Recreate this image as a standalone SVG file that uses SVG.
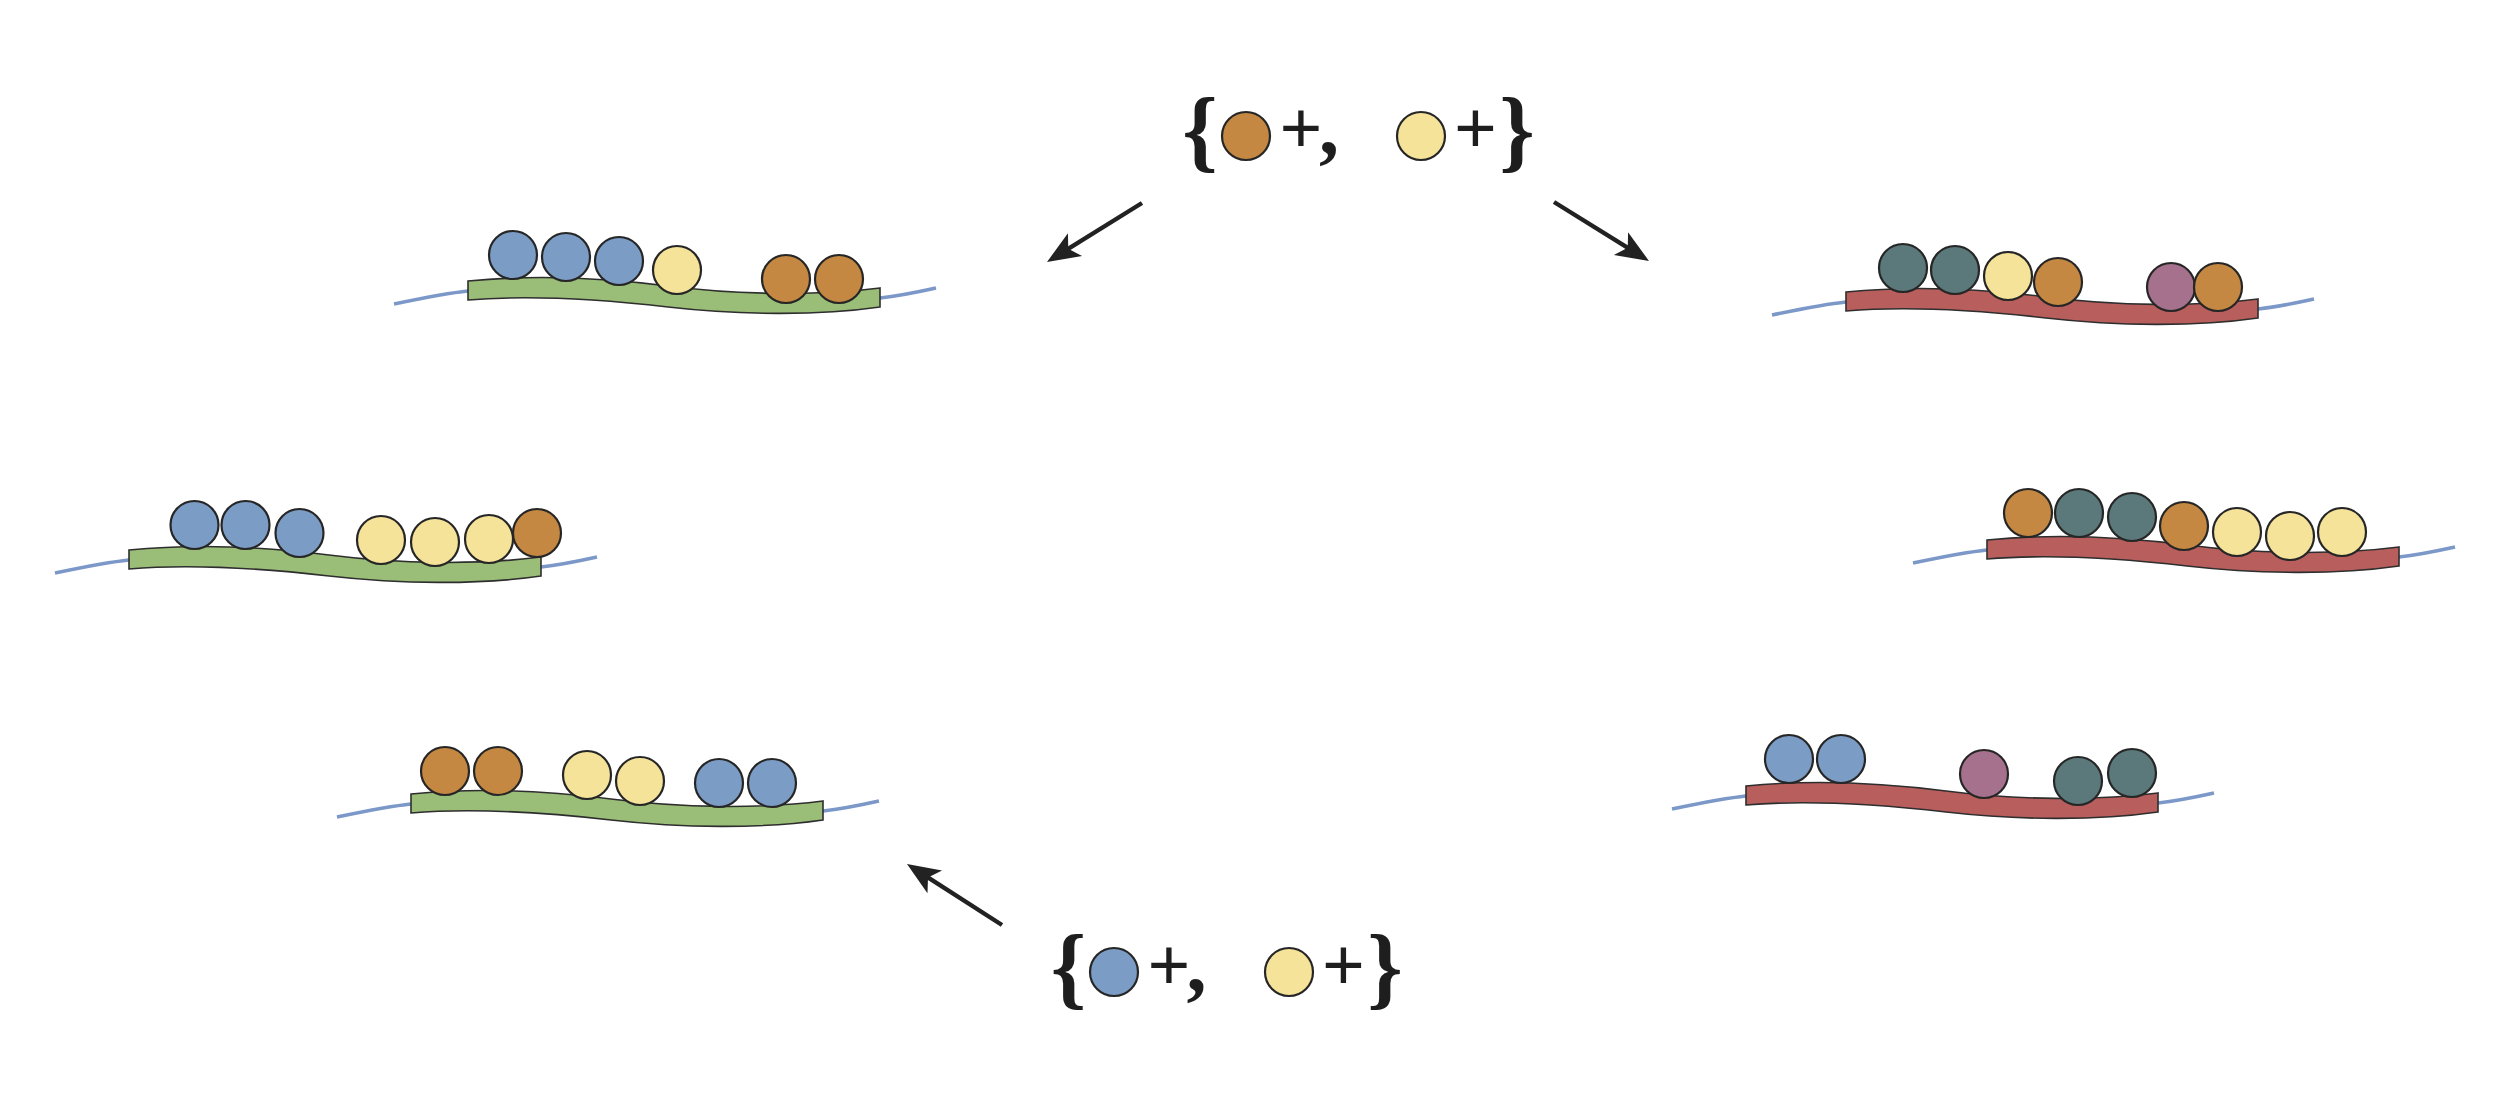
<svg xmlns="http://www.w3.org/2000/svg" xmlns:xlink="http://www.w3.org/1999/xlink" width="2500" height="1104" viewBox="0 0 2500 1104">
<style>
.strandline{fill:none;stroke:#7b98c8;stroke-width:3.6}
.band{stroke:#2e2e2e;stroke-width:1.6}
.green{fill:#9abd77}
.red{fill:#b85f5d}
circle{stroke:#262626;stroke-width:2.2}
.bl{fill:#7b9cc5}
.ye{fill:#f5e39a}
.br{fill:#c48842}
.te{fill:#5b787a}
.mv{fill:#a5718c}
.conn{stroke:#222;stroke-width:4.4;fill:none}
.sym{font-family:"Liberation Serif","Times New Roman",serif;font-weight:bold;fill:#1e1e1e;text-anchor:middle}
</style>
<defs>
<path id="bandShape" d="M0,0 C60,-6 130,-4 200,5 C270,14 350,15 412,7 L412,26 C350,35 270,34 200,26 C130,18 60,14 0,19 Z"/>
<path id="lineShape" d="M-74,23 C-45,17 -20,12 0,10 C100,3 300,25 412,17 C430,15 450,11 468,7"/>
<marker id="head" markerUnits="userSpaceOnUse" orient="auto" refX="0" refY="0" markerWidth="60" markerHeight="60" overflow="visible">
<path d="M22,0 L-11,-13.5 L-3,0 L-11,13.5 Z" fill="#222"/>
</marker>
</defs>

<g id="connectors">
<line class="conn" x1="1142" y1="203" x2="1065.7" y2="250.4" marker-end="url(#head)"/>
<line class="conn" x1="1554" y1="202" x2="1630.3" y2="249.4" marker-end="url(#head)"/>
<line class="conn" x1="1002" y1="925" x2="925.5" y2="875.9" marker-end="url(#head)"/>
</g>

<g id="formula-top">
<text class="sym" x="1200" y="160" font-size="90">{</text>
<circle class="br" cx="1246" cy="136" r="24"/>
<text class="sym" x="1301" y="154" font-size="76">+</text>
<text class="sym" x="1329" y="154" font-size="80">,</text>
<circle class="ye" cx="1421" cy="136" r="24"/>
<text class="sym" x="1475.5" y="154" font-size="76">+</text>
<text class="sym" x="1517" y="160" font-size="90">}</text>
</g>

<g id="formula-bottom">
<text class="sym" x="1068.5" y="997" font-size="90">{</text>
<circle class="bl" cx="1114" cy="972" r="24"/>
<text class="sym" x="1169" y="991" font-size="76">+</text>
<text class="sym" x="1196.5" y="991" font-size="80">,</text>
<circle class="ye" cx="1289" cy="972" r="24"/>
<text class="sym" x="1343.5" y="991" font-size="76">+</text>
<text class="sym" x="1385" y="997" font-size="90">}</text>
</g>

<g id="strand-top-left">
<use xlink:href="#lineShape" class="strandline" transform="translate(468,281)"/>
<use xlink:href="#bandShape" class="band green" transform="translate(468,281)"/>
<circle class="bl" cx="513" cy="255" r="24"/>
<circle class="bl" cx="566" cy="257" r="24"/>
<circle class="bl" cx="619" cy="261" r="24"/>
<circle class="ye" cx="677" cy="270" r="24"/>
<circle class="br" cx="786" cy="279" r="24"/>
<circle class="br" cx="839" cy="279" r="24"/>
</g>

<g id="strand-middle-left">
<use xlink:href="#lineShape" class="strandline" transform="translate(129,550)"/>
<use xlink:href="#bandShape" class="band green" transform="translate(129,550)"/>
<circle class="bl" cx="194.5" cy="525" r="24"/>
<circle class="bl" cx="245.5" cy="525" r="24"/>
<circle class="bl" cx="299.5" cy="533" r="24"/>
<circle class="ye" cx="381" cy="540" r="24"/>
<circle class="ye" cx="435" cy="542" r="24"/>
<circle class="ye" cx="489" cy="539" r="24"/>
<circle class="br" cx="537" cy="533" r="24"/>
</g>

<g id="strand-bottom-left">
<use xlink:href="#lineShape" class="strandline" transform="translate(411,794)"/>
<use xlink:href="#bandShape" class="band green" transform="translate(411,794)"/>
<circle class="br" cx="445" cy="771" r="24"/>
<circle class="br" cx="498" cy="771" r="24"/>
<circle class="ye" cx="587" cy="775" r="24"/>
<circle class="ye" cx="640" cy="781" r="24"/>
<circle class="bl" cx="719" cy="783" r="24"/>
<circle class="bl" cx="772" cy="783" r="24"/>
</g>

<g id="strand-top-right">
<use xlink:href="#lineShape" class="strandline" transform="translate(1846,292)"/>
<use xlink:href="#bandShape" class="band red" transform="translate(1846,292)"/>
<circle class="te" cx="1903" cy="268" r="24"/>
<circle class="te" cx="1955" cy="270" r="24"/>
<circle class="ye" cx="2008" cy="276" r="24"/>
<circle class="br" cx="2058" cy="282" r="24"/>
<circle class="mv" cx="2171" cy="287" r="24"/>
<circle class="br" cx="2218" cy="287" r="24"/>
</g>

<g id="strand-middle-right">
<use xlink:href="#lineShape" class="strandline" transform="translate(1987,540)"/>
<use xlink:href="#bandShape" class="band red" transform="translate(1987,540)"/>
<circle class="br" cx="2028" cy="513" r="24"/>
<circle class="te" cx="2079" cy="513" r="24"/>
<circle class="te" cx="2132" cy="517" r="24"/>
<circle class="br" cx="2184" cy="526" r="24"/>
<circle class="ye" cx="2237" cy="532" r="24"/>
<circle class="ye" cx="2290" cy="536" r="24"/>
<circle class="ye" cx="2342" cy="532" r="24"/>
</g>

<g id="strand-bottom-right">
<use xlink:href="#lineShape" class="strandline" transform="translate(1746,786)"/>
<use xlink:href="#bandShape" class="band red" transform="translate(1746,786)"/>
<circle class="bl" cx="1789" cy="759" r="24"/>
<circle class="bl" cx="1841" cy="759" r="24"/>
<circle class="mv" cx="1984" cy="774" r="24"/>
<circle class="te" cx="2078" cy="781" r="24"/>
<circle class="te" cx="2132" cy="773" r="24"/>
</g>
</svg>
